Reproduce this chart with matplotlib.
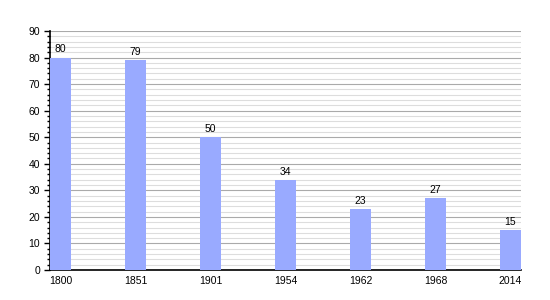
import matplotlib.pyplot as plt
from matplotlib.ticker import MultipleLocator

# population by census year
years = ["1800", "1851", "1901", "1954", "1962", "1968", "2014"]
population = [80, 79, 50, 34, 23, 27, 15]

plt.rcParams["font.family"] = ["Liberation Sans", "DejaVu Sans"]

fig = plt.figure(figsize=(5.5, 3), dpi=100)
ax = fig.add_axes([50 / 550, 30 / 300, 471 / 550, 239 / 300])

width = 0.28
pos = list(range(len(years)))
ax.bar(pos, population, width=width, color="#99aaff", zorder=3)

for x, v in zip(pos, population):
    ax.text(x, v + 1.2, str(v), ha="center", va="bottom", fontsize=7.5, zorder=4)

ax.set_xlim(-width / 2, len(years) - 1 + width / 2)
ax.set_ylim(0, 90)
ax.set_xticks(pos)
ax.set_xticklabels(years)
ax.yaxis.set_major_locator(MultipleLocator(10))
ax.yaxis.set_minor_locator(MultipleLocator(2))

ax.grid(axis="y", which="major", color="#aaaaaa", linewidth=0.8, zorder=1)
ax.grid(axis="y", which="minor", color="#dddddd", linewidth=0.8, zorder=1)

for s in ["top", "right"]:
    ax.spines[s].set_visible(False)
ax.spines["left"].set_linewidth(1.2)
ax.spines["bottom"].set_linewidth(1.2)

ax.tick_params(axis="x", length=0, labelsize=7.5, pad=4)
ax.tick_params(axis="y", which="major", length=4, width=1, labelsize=7.5, pad=3)
ax.tick_params(axis="y", which="minor", length=2, width=1)

fig.savefig("out.png", dpi=100)
